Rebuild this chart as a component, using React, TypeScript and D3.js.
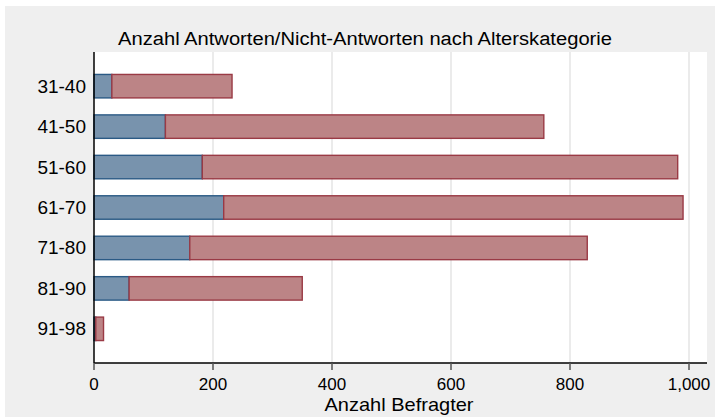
import React from 'react';
import * as d3 from 'd3';

// age categories and counts (answers = blue, non-answers = red, stacked)
const categories = ['31-40', '41-50', '51-60', '61-70', '71-80', '81-90', '91-98'];
const answers = [30, 120, 182, 218, 161, 59, 3];
const nonAnswers = [202, 636, 799, 772, 668, 291, 13];
const xTicks = [0, 200, 400, 600, 800, 1000];

const W = 715;
const H = 417;
const plot = { left: 94, right: 707, top: 52, bottom: 363 };

const font = '"Liberation Sans", Arial, Helvetica, sans-serif';

const App = () => {
  const x = d3.scaleLinear().domain([0, 1000]).range([plot.left, 689]);
  const y = d3.scaleBand<string>()
    .domain(categories)
    .range([plot.top, plot.bottom])
    .paddingInner(0.42)
    .paddingOuter(0.555);
  const fmt = d3.format(',');

  return (
    <svg width={W} height={H} style={{ position: 'absolute', left: 0, top: 0 }} fontFamily={font}>
      <rect x={0} y={0} width={W} height={H} fill="#ffffff" />
      <rect x={5} y={6} width={W - 5} height={H - 6} fill="#efefef" />
      <rect x={plot.left} y={plot.top} width={plot.right - plot.left} height={plot.bottom - plot.top} fill="#ffffff" />

      {/* grid lines */}
      {xTicks.filter(t => t > 0).map(t => (
        <line key={'g' + t} x1={x(t)} x2={x(t)} y1={plot.top} y2={plot.bottom} stroke="#e6e6e6" strokeWidth={1.6} />
      ))}

      {/* bars */}
      {categories.map((c, i) => {
        const y0 = y(c)!;
        const bw = y.bandwidth();
        return (
          <g key={c}>
            <rect x={x(0)} y={y0} width={x(answers[i]) - x(0)} height={bw}
              fill="#7893ad" stroke="#2b5a85" strokeWidth={1.4} />
            <rect x={x(answers[i])} y={y0} width={x(answers[i] + nonAnswers[i]) - x(answers[i])} height={bw}
              fill="#bc8486" stroke="#9a3a45" strokeWidth={1.4} />
          </g>
        );
      })}

      {/* axes */}
      <line x1={plot.left} x2={plot.left} y1={plot.top} y2={plot.bottom} stroke="#000" strokeWidth={1.5} />
      <line x1={plot.left} x2={plot.right} y1={plot.bottom} y2={plot.bottom} stroke="#000" strokeWidth={1.5} />

      {xTicks.map(t => (
        <g key={'t' + t}>
          <line x1={x(t)} x2={x(t)} y1={plot.bottom} y2={plot.bottom + 7} stroke="#555" strokeWidth={1.5} />
          <text x={x(t)} y={390} textAnchor="middle" fontSize={17} fill="#000">{fmt(t)}</text>
        </g>
      ))}

      {categories.map(c => (
        <text key={'l' + c} x={86} y={y(c)! + y.bandwidth() / 2 + 6.5} textAnchor="end" fontSize={19} fill="#000">{c}</text>
      ))}

      <text x={399} y={411} textAnchor="middle" fontSize={19} fill="#000"
        textLength={149} lengthAdjust="spacingAndGlyphs">Anzahl Befragter</text>
      <text x={365} y={45} textAnchor="middle" fontSize={18} fill="#000"
        textLength={494} lengthAdjust="spacingAndGlyphs">Anzahl Antworten/Nicht-Antworten nach Alterskategorie</text>
    </svg>
  );
};

export default App;
